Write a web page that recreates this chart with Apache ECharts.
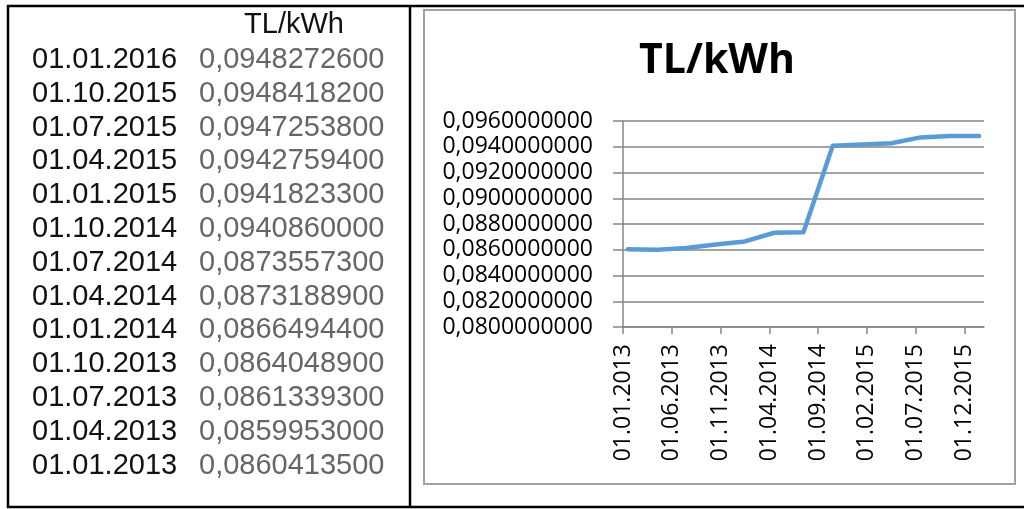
<!DOCTYPE html>
<html>
<head>
<meta charset="utf-8">
<script src="https://cdn.jsdelivr.net/npm/echarts@6/dist/echarts.min.js"></script>
<style>
html,body{margin:0;padding:0;background:#fff;}
#main{width:1024px;height:509px;}
</style>
</head>
<body>
<div id="main"></div>
<script>
// ---- data ----
var tableHeader = 'TL/kWh';
var dates = ['01.01.2016','01.10.2015','01.07.2015','01.04.2015','01.01.2015','01.10.2014','01.07.2014','01.04.2014','01.01.2014','01.10.2013','01.07.2013','01.04.2013','01.01.2013'];
var values = [0.0948272600,0.0948418200,0.0947253800,0.0942759400,0.0941823300,0.0940860000,0.0873557300,0.0873188900,0.0866494400,0.0864048900,0.0861339300,0.0859953000,0.0860413500];
var chartTitle = 'TL/kWh';
var xTickLabels = ['01.01.2013','01.06.2013','01.11.2013','01.04.2014','01.09.2014','01.02.2015','01.07.2015','01.12.2015'];
var yMin = 0.080, yMax = 0.096, yStep = 0.002;
var axisStart = '01.01.2013', axisEnd = '01.02.2016';

// ---- helpers ----
function monthIndex(s){ var p = s.split('.'); var b = axisStart.split('.'); return (parseInt(p[2])-parseInt(b[2]))*12 + (parseInt(p[1])-parseInt(b[1])); }
function idxToLabel(v){ var b = axisStart.split('.'); var m = Math.round(v) + parseInt(b[1]) - 1; var y = parseInt(b[2]) + Math.floor(m/12); var mm = (m%12)+1; return '01.' + (mm<10?'0':'') + mm + '.' + y; }
function fmt(v){ return v.toFixed(10).replace('.', ','); }

var seriesData = dates.map(function(d,i){ return [monthIndex(d)+0.5, values[i]]; }).sort(function(a,b){return a[0]-b[0];});
var xTicks = xTickLabels.map(monthIndex);

// ---- table graphics ----
var graphics = [];
var tFont = '"Liberation Sans", Arial, sans-serif';
var tSize = '29px ';
graphics.push({type:'text', x:294, y:25, style:{text:tableHeader, font:tSize+tFont, fill:'#111', textAlign:'center', textVerticalAlign:'middle'}});
dates.forEach(function(d,i){
  var y = 60 + i*33.8;
  graphics.push({type:'text', x:32, y:y, style:{text:d, font:tSize+tFont, fill:'#111', textAlign:'left', textVerticalAlign:'middle'}});
  graphics.push({type:'text', x:199, y:y, style:{text:fmt(values[i]), font:tSize+tFont, fill:'#666', textAlign:'left', textVerticalAlign:'middle'}});
});
// frame lines
var blk = {stroke:'#000', lineWidth:2.5};
graphics.push({type:'line', shape:{x1:7, y1:6, x2:1024, y2:6}, style:blk});
graphics.push({type:'line', shape:{x1:8, y1:5, x2:8, y2:508}, style:blk});
graphics.push({type:'line', shape:{x1:410, y1:5, x2:410, y2:508}, style:blk});
graphics.push({type:'line', shape:{x1:7, y1:507, x2:1024, y2:507}, style:blk});
// chart border
graphics.push({type:'rect', shape:{x:424, y:10, width:591, height:474}, style:{fill:'none', stroke:'#a0a0a0', lineWidth:2}});
// chart title
graphics.push({type:'text', x:717, y:61, style:{text:chartTitle, font:'bold 41px "Open Sans", sans-serif', fill:'#000', textAlign:'center', textVerticalAlign:'middle'}});

var chart = echarts.init(document.getElementById('main'), null, {renderer:'canvas'});
var gridColor = '#868686';
var lblFont = '"Open Sans", sans-serif';
chart.setOption({
  animation:false,
  backgroundColor:'#fff',
  graphic: graphics,
  grid:{left:623, right:40, top:121, bottom:182, containLabel:false},
  xAxis:{
    type:'value', min:0, max:monthIndex(axisEnd),
    splitLine:{show:false},
    axisLine:{show:true, onZero:false, lineStyle:{color:gridColor, width:1.5}},
    axisTick:{show:true, inside:false, length:7, customValues:xTicks, lineStyle:{color:gridColor, width:1.5}},
    axisLabel:{show:true, rotate:90, margin:17, customValues:xTicks, formatter:function(v){return idxToLabel(v);}, color:'#000', fontSize:23, fontFamily:lblFont}
  },
  yAxis:{
    type:'value', min:yMin, max:yMax, interval:yStep,
    axisLine:{show:true, lineStyle:{color:gridColor, width:1.5}},
    axisTick:{show:true, inside:false, length:10, lineStyle:{color:gridColor, width:1.5}},
    splitLine:{show:true, lineStyle:{color:gridColor, width:1.5}},
    axisLabel:{margin:30, formatter:function(v){return fmt(v);}, color:'#000', fontSize:23, fontFamily:lblFont}
  },
  series:[{
    type:'line', data:seriesData, symbol:'none', showSymbol:false,
    lineStyle:{color:'#5B9BD5', width:4.5, cap:'round', join:'round'},
    z:5
  }]
});
</script>
</body>
</html>
